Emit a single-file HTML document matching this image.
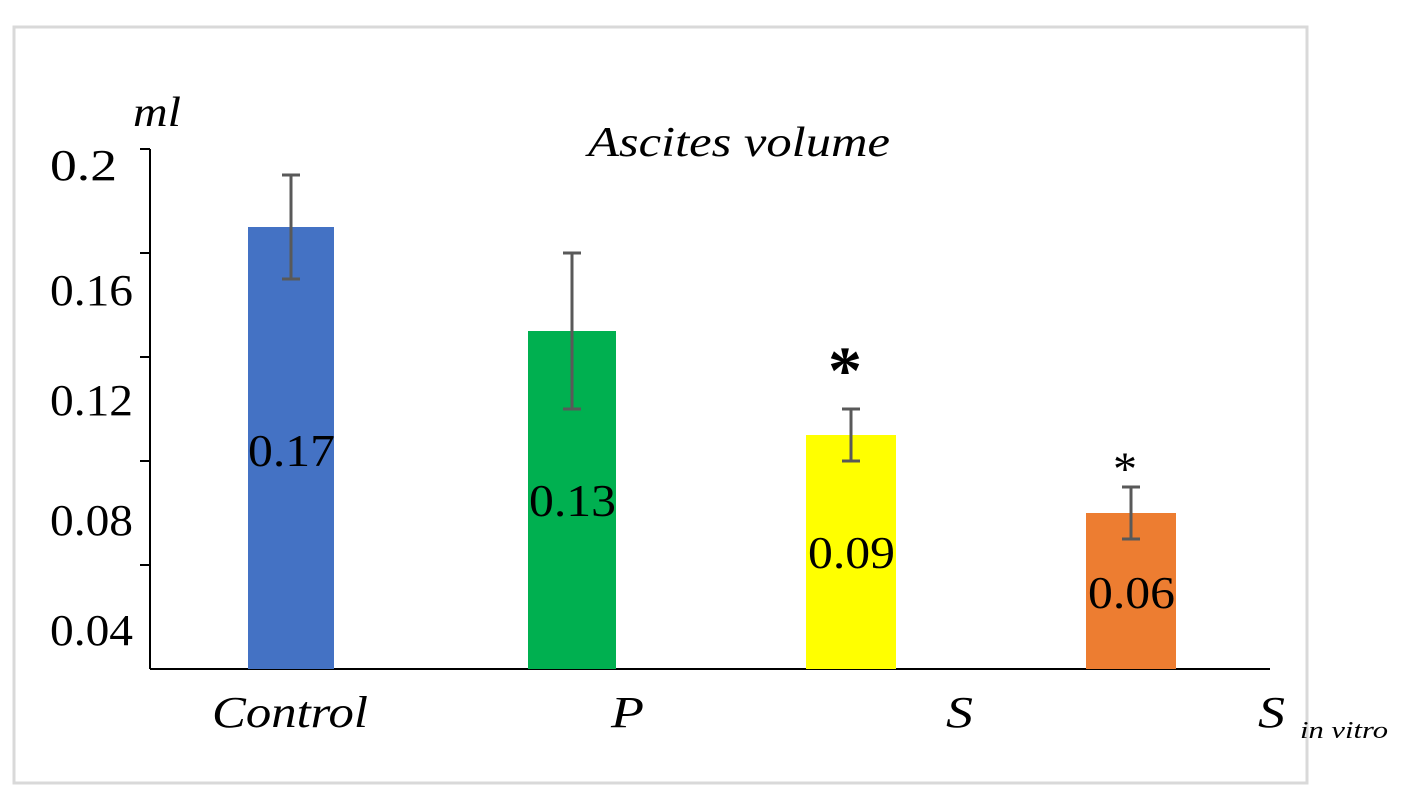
<!DOCTYPE html>
<html><head><meta charset="utf-8"><style>
html,body{margin:0;padding:0;background:#fff;}
svg{display:block;}
text{font-family:"Liberation Serif",serif;fill:#000;}
</style></head><body>
<svg id="chart" width="1427" height="810">
<rect x="14" y="27" width="1293" height="756" fill="#fff" stroke="#d9d9d9" stroke-width="3"/>
<text x="588" y="156" font-size="42" font-style="italic" textLength="302" lengthAdjust="spacingAndGlyphs">Ascites volume</text>
<text x="133" y="126" font-size="42" font-style="italic" textLength="48" lengthAdjust="spacingAndGlyphs">ml</text>
<g id="g"></g>
</svg>
<script>
const categories=["Control","P","S","S"];
const values=[0.17,0.13,0.09,0.06];
const errors=[0.02,0.03,0.01,0.01];
const colors=["#4472c4","#00b050","#ffff00","#ed7d31"];
const valueLabels=["0.17","0.13","0.09","0.06"];
const tickLabels=["0.2","0.16","0.12","0.08","0.04"];
const stars=[false,false,true,true];
const NS="http://www.w3.org/2000/svg";
const g=document.getElementById("g");
const y0=669,pxPer=2600;
function Y(v){return y0-v*pxPer;}
const centers=[291,572,851,1131];
const barW=[86,88,90,90];
function el(t,a,txt){const e=document.createElementNS(NS,t);for(const k in a)e.setAttribute(k,a[k]);if(txt!=null)e.textContent=txt;g.appendChild(e);return e;}
let e=el("line",{x1:150,y1:149,x2:150,y2:669,stroke:"#000","stroke-width":2});


e=el("line",{x1:150,y1:669,x2:1270,y2:669,stroke:"#000","stroke-width":2});


const labelY=[180,305,415,535,645];
for(let i=0;i<tickLabels.length;i++){
  const ty=Y(0.2-0.04*i);
  e=el("line",{x1:140,y1:ty,x2:150,y2:ty,stroke:"#000","stroke-width":2});
  
  
  const tl=tickLabels[i].length==3?67:83;
  e=el("text",{x:50,y:labelY[i],"font-size":44,textLength:tl,lengthAdjust:"spacingAndGlyphs"},tickLabels[i]);
  
  
}
const valY=[466,516,568,608];
for(let i=0;i<values.length;i++){
  const cx=centers[i],w=barW[i],top=Y(values[i]);
  e=el("rect",{x:cx-w/2,y:top,width:w,height:y0-top,fill:colors[i]});
  
  
  const t=Y(values[i]+errors[i]),b=Y(values[i]-errors[i]);
  e=el("path",{d:`M${cx} ${t}V${b}M${cx-9} ${t}H${cx+9}M${cx-9} ${b}H${cx+9}`,stroke:"#595959","stroke-width":3,fill:"none"});
  
  
  e=el("text",{x:cx-43,y:valY[i],"font-size":46,textLength:87,lengthAdjust:"spacingAndGlyphs"},valueLabels[i]);
  
  
  if(stars[i]){
    e=el("text",{x:cx-6,y:i==2?t-16:t-2,"font-size":i==2?68:48,"font-weight":i==2?"bold":"normal","text-anchor":"middle"},"*");
    
    
  }
}
const catX=[212,611,946,1258];
const catW=[156,33,27,27];
for(let i=0;i<categories.length;i++){
  e=el("text",{x:catX[i],y:727,"font-size":44,"font-style":"italic",textLength:catW[i],lengthAdjust:"spacingAndGlyphs"},categories[i]);
  
  
}
e=el("text",{x:1300,y:738,"font-size":24,"font-style":"italic",textLength:88,lengthAdjust:"spacingAndGlyphs"},"in vitro");


</script>
</body></html>
